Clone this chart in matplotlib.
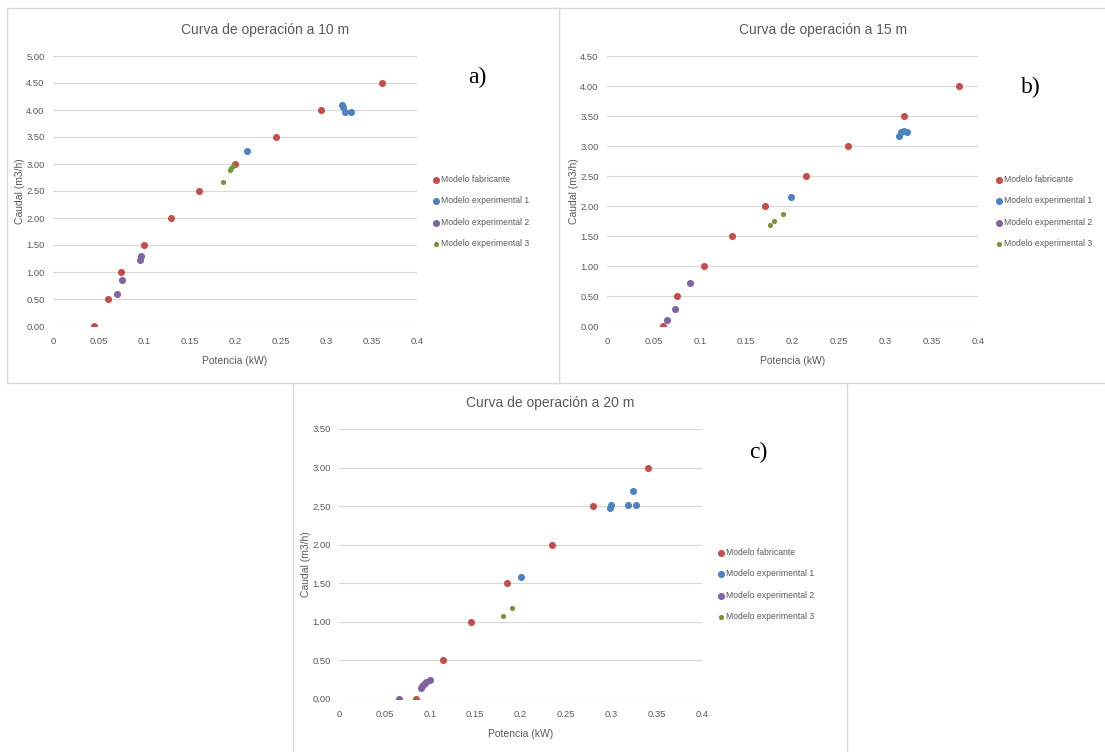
import numpy as np
import matplotlib
matplotlib.use("Agg")
import matplotlib.pyplot as plt
from matplotlib.lines import Line2D
from matplotlib.ticker import FuncFormatter, MultipleLocator

plt.rcParams['font.family'] = ['Liberation Sans Narrow', 'Liberation Sans', 'DejaVu Sans']

W, H = 1105, 752

series_names = ["Modelo fabricante", "Modelo experimental 1",
                "Modelo experimental 2", "Modelo experimental 3"]
series_colors = ["#C0504D", "#4F81BD", "#8064A2", "#77933C"]

# a) 10 m
a_fab_x = [0.045, 0.060, 0.075, 0.100, 0.130, 0.160, 0.200, 0.245, 0.295, 0.361]
a_fab_y = [0.00, 0.50, 1.00, 1.50, 2.00, 2.50, 3.00, 3.50, 4.00, 4.50]
a_exp1_x = [0.213, 0.318, 0.319, 0.321, 0.327]
a_exp1_y = [3.24, 4.10, 4.05, 3.96, 3.96]
a_exp2_x = [0.070, 0.076, 0.096, 0.097]
a_exp2_y = [0.60, 0.86, 1.22, 1.29]
a_exp3_x = [0.187, 0.194, 0.196, 0.198]
a_exp3_y = [2.67, 2.88, 2.93, 2.97]

# b) 15 m
b_fab_x = [0.060, 0.075, 0.105, 0.135, 0.170, 0.215, 0.260, 0.320, 0.380]
b_fab_y = [0.00, 0.50, 1.00, 1.50, 2.00, 2.50, 3.00, 3.50, 4.00]
b_exp1_x = [0.198, 0.315, 0.317, 0.320, 0.323]
b_exp1_y = [2.15, 3.16, 3.24, 3.25, 3.23]
b_exp2_x = [0.065, 0.073, 0.090]
b_exp2_y = [0.10, 0.28, 0.72]
b_exp3_x = [0.176, 0.180, 0.190]
b_exp3_y = [1.69, 1.75, 1.87]

# c) 20 m
c_fab_x = [0.085, 0.115, 0.145, 0.185, 0.235, 0.280, 0.340]
c_fab_y = [0.00, 0.50, 1.00, 1.50, 2.00, 2.50, 3.00]
c_exp1_x = [0.201, 0.299, 0.300, 0.318, 0.324, 0.327]
c_exp1_y = [1.58, 2.47, 2.52, 2.51, 2.70, 2.51]
c_exp2_x = [0.066, 0.090, 0.092, 0.094, 0.096, 0.100]
c_exp2_y = [0.00, 0.14, 0.17, 0.20, 0.22, 0.25]
c_exp3_x = [0.181, 0.191]
c_exp3_y = [1.08, 1.18]

panels = [
    dict(title="Curva de operación a 10 m", tag="a)", ymax=5.0,
         data=[(a_fab_x, a_fab_y), (a_exp1_x, a_exp1_y), (a_exp2_x, a_exp2_y), (a_exp3_x, a_exp3_y)],
         ax_px=(53, 56, 417, 326), title_px=(265, 30), tag_px=(477, 77), leg_px=(433, 175)),
    dict(title="Curva de operación a 15 m", tag="b)", ymax=4.5,
         data=[(b_fab_x, b_fab_y), (b_exp1_x, b_exp1_y), (b_exp2_x, b_exp2_y), (b_exp3_x, b_exp3_y)],
         ax_px=(607, 56, 978, 326), title_px=(823, 30), tag_px=(1031, 87), leg_px=(996, 175)),
    dict(title="Curva de operación a 20 m", tag="c)", ymax=3.5,
         data=[(c_fab_x, c_fab_y), (c_exp1_x, c_exp1_y), (c_exp2_x, c_exp2_y), (c_exp3_x, c_exp3_y)],
         ax_px=(339, 429, 702, 699), title_px=(550, 403), tag_px=(758, 452), leg_px=(718, 548)),
]

gray = "#595959"
grid = "#d9d9d9"

fig = plt.figure(figsize=(W / 100, H / 100), dpi=100)
fig.patch.set_facecolor("white")


def fx(px):
    return px / W


def fy(py):
    return 1 - py / H


for p in panels:
    x0, y0, x1, y1 = p["ax_px"]
    ax = fig.add_axes([fx(x0), fy(y1), (x1 - x0) / W, (y1 - y0) / H])
    for (xs, ys), name, col in zip(p["data"], series_names, series_colors):
        size = 14 if name.endswith("3") else 26
        ax.scatter(xs, ys, s=size, color=col, label=name, zorder=3, linewidths=0)
    ax.set_xlim(0, 0.4)
    ax.set_ylim(0, p["ymax"])
    ax.xaxis.set_major_locator(MultipleLocator(0.05))
    ax.yaxis.set_major_locator(MultipleLocator(0.5))
    ax.xaxis.set_major_formatter(FuncFormatter(lambda v, _: f"{v:.2f}".rstrip("0").rstrip(".") if v else "0"))
    ax.yaxis.set_major_formatter(FuncFormatter(lambda v, _: f"{v:.2f}"))
    ax.grid(axis="y", color=grid, linewidth=0.9)
    ax.set_axisbelow(True)
    for s in ax.spines.values():
        s.set_visible(False)
    ax.tick_params(length=0, labelsize=6.8, colors=gray)
    ax.tick_params(axis="x", pad=8)
    ax.tick_params(axis="y", pad=6)
    ax.set_xlabel("Potencia (kW)", fontsize=7.5, color=gray, labelpad=7)
    ax.set_ylabel("Caudal (m3/h)", fontsize=7.5, color=gray)
    ax.yaxis.set_label_coords(-28 / (x1 - x0), 0.5)
    ax.set_facecolor("none")

    fig.text(fx(p["title_px"][0]), fy(p["title_px"][1]), p["title"], ha="center", va="center",
             fontsize=10, color=gray)
    fig.text(fx(p["tag_px"][0]), fy(p["tag_px"][1]), p["tag"], ha="center", va="center",
             fontsize=17, color="black", family=["Liberation Serif", "DejaVu Serif"])
    ax.legend(loc="upper left", bbox_to_anchor=(fx(p["leg_px"][0]), fy(p["leg_px"][1])),
              bbox_transform=fig.transFigure, frameon=False, fontsize=6.2,
              handlelength=0.8, handletextpad=0.1, borderpad=0, borderaxespad=0,
              labelspacing=1.45, labelcolor=gray, markerscale=1.0)

# panel borders
border = "#d9d9d9"
segs = [
    ((7, 1105), (8, 8)),
    ((7, 7), (8, 383)),
    ((559, 559), (8, 383)),
    ((7, 1105), (383, 383)),
    ((293, 293), (383, 752)),
    ((847, 847), (383, 752)),
]
for xs, ys in segs:
    fig.add_artist(Line2D([fx(v) for v in xs], [fy(v) for v in ys], color=border, linewidth=1.0))

fig.savefig("out.png", dpi=100)
